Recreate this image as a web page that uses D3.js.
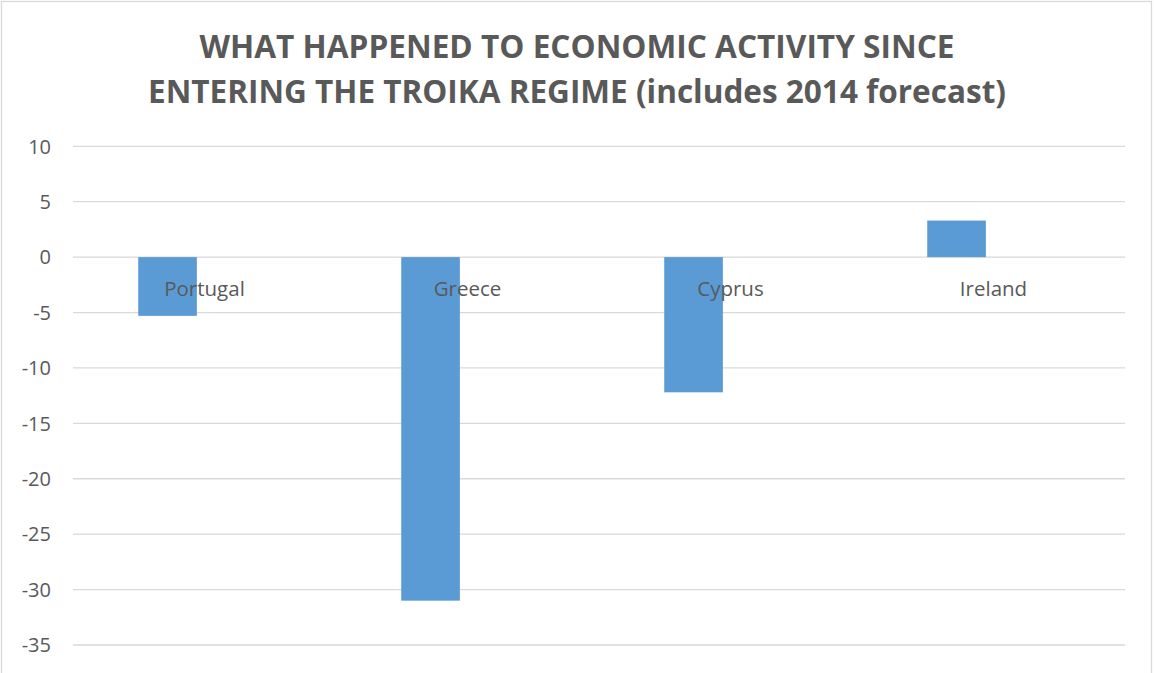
<!DOCTYPE html>
<html><head><meta charset="utf-8">
<script src="https://cdn.jsdelivr.net/npm/d3@7"></script>
<style>
html,body{margin:0;padding:0;background:#fff;}
svg{display:block;}
text{font-family:"Open Sans","Liberation Sans",sans-serif;fill:#595959;}
</style></head>
<body>
<svg id="c" width="1154" height="673"></svg>
<script>
const categories = ["Portugal", "Greece", "Cyprus", "Ireland"];
const values = [-5.3, -31.0, -12.2, 3.3];
const yTicks = [10, 5, 0, -5, -10, -15, -20, -25, -30, -35];
const titleLines = ["WHAT HAPPENED TO ECONOMIC ACTIVITY SINCE", "ENTERING THE TROIKA REGIME (includes 2014 forecast)"];

const svg = d3.select("#c");
svg.append("rect").attr("x", 1.5).attr("y", 1.5).attr("width", 1150).attr("height", 700)
  .attr("fill", "#fff").attr("stroke", "#d9d9d9").attr("stroke-width", 1.3);

const x = d3.scaleBand().domain(categories).range([73, 1125]).padding(0);
const y = d3.scaleLinear().domain([-35, 10]).range([645, 146.3]);

// gridlines
svg.append("g").selectAll("line").data(yTicks).join("line")
  .attr("x1", 73).attr("x2", 1125)
  .attr("y1", d => y(d)).attr("y2", d => y(d))
  .attr("stroke", "#d9d9d9").attr("stroke-width", 1.3);

// y tick labels
svg.append("g").selectAll("text").data(yTicks).join("text")
  .attr("x", 51).attr("y", d => y(d)).attr("dy", "0.36em")
  .attr("text-anchor", "end").attr("font-size", 20)
  .text(d => d);

// bars
const bw = x.bandwidth();
svg.append("g").selectAll("rect").data(values).join("rect")
  .attr("x", (d, i) => x(categories[i]) + bw * 0.248)
  .attr("width", bw * 0.223)
  .attr("y", d => y(Math.max(0, d)))
  .attr("height", d => Math.abs(y(d) - y(0)))
  .attr("fill", "#5b9bd5");

// category labels
svg.append("g").selectAll("text").data(categories).join("text")
  .attr("x", d => x(d) + bw / 2).attr("y", 296)
  .attr("text-anchor", "middle").attr("font-size", 20.5)
  .text(d => d);

// title
const tw = [755, 858];
svg.append("g").selectAll("text").data(titleLines).join("text")
  .attr("x", 577).attr("y", (d, i) => 58 + i * 45)
  .attr("text-anchor", "middle").attr("font-size", 33).attr("font-weight", "bold")
  .attr("textLength", (d, i) => tw[i]).attr("lengthAdjust", "spacingAndGlyphs")
  .text(d => d);
</script>
</body></html>
